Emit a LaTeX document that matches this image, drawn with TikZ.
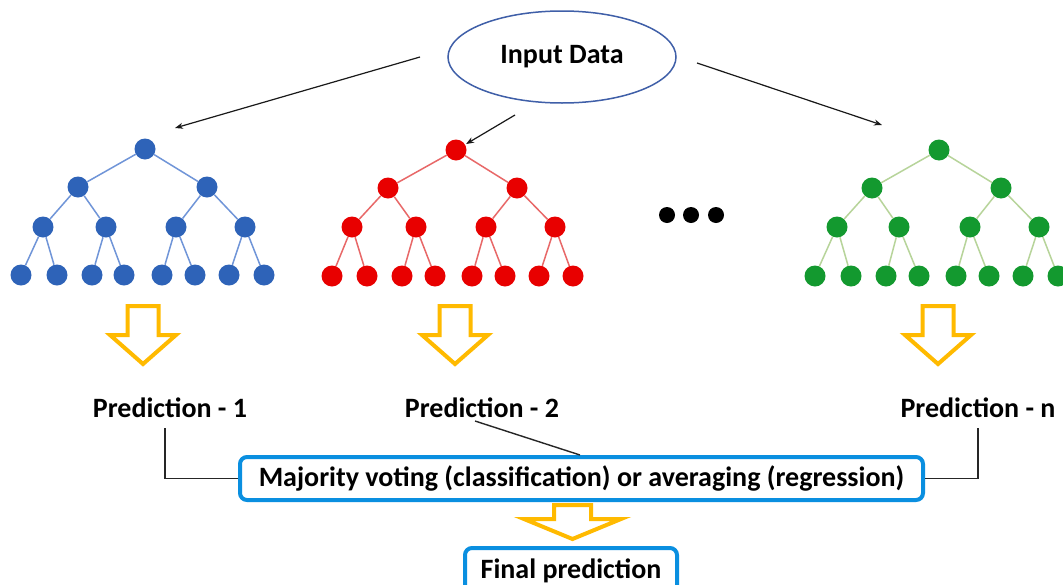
\documentclass[tikz,border=0pt]{standalone}
\usepackage{fontspec}
\setmainfont{Carlito}
\usetikzlibrary{arrows.meta,shapes.geometric}
\definecolor{tblue}{HTML}{2E63B8}
\definecolor{tbluee}{HTML}{7095D8}
\definecolor{tred}{HTML}{E80000}
\definecolor{trede}{HTML}{E86868}
\definecolor{tgreen}{HTML}{13992F}
\definecolor{tgreene}{HTML}{B7D49A}
\definecolor{gold}{HTML}{FFBA00}
\definecolor{boxblue}{HTML}{0A8FE0}
\definecolor{ellblue}{HTML}{3F5FA8}
\begin{document}
\begin{tikzpicture}[x=1pt,y=-1pt,
  dot/.style={circle,fill=#1,inner sep=0pt,minimum size=21pt},
  tedge/.style={draw=#1,line width=1.5pt},
  yarrow/.style={draw=gold,line width=4pt,line join=miter,fill=white},
  conn/.style={draw=black!85,line width=1.4pt},
  dataarrow/.style={draw=black!90,line width=1.2pt,-{Stealth[length=8pt,width=6pt]}},
  pred/.style={font=\bfseries\fontsize{28}{32}\selectfont},
  bbox/.style={draw=boxblue,line width=4pt,rounded corners=7pt,fill=white,
    font=\bfseries\fontsize{28}{32}\selectfont}]
\useasboundingbox (0,0) rectangle (1063,584);
\fill[white] (0,0) rectangle (1063,584);

% input ellipse
\node[ellipse,draw=ellblue,line width=1.5pt,minimum width=228pt,minimum height=92pt,
  font=\bfseries\fontsize{28}{32}\selectfont] (in) at (562,57) {Input Data};

% trees
\newcommand\mktree[6]{%
  \foreach \n/\x/\y in {#4} \node[dot=#2] (#1\n) at (\x,\y) {};
  \foreach \n/\x/\y in {#5} \node[dot=#2] (#1\n) at (\x,\y) {};
  \foreach \n/\x/\y in {#6} \node[dot=#2] (#1\n) at (\x,\y) {};
  \foreach \p/\c in {r/a,r/b,a/c,a/d,b/e,b/f,c/l1,c/l2,d/l3,d/l4,e/l5,e/l6,f/l7,f/l8}
    \draw[tedge=#3] (#1\p) -- (#1\c);
}
\mktree{B}{tblue}{tbluee}
  {r/145/149,a/78/187,b/207/187}
  {c/43/227,d/106/227,e/176/227,f/245/227}
  {l1/21/275,l2/57/275,l3/92/275,l4/124/275,l5/162/275,l6/195/275,l7/229/275,l8/264/275}
\mktree{R}{tred}{trede}
  {r/456/150,a/388/188,b/517/188}
  {c/352/227,d/416/227,e/486/227,f/555/227}
  {l1/332/276,l2/367/276,l3/402/276,l4/435/276,l5/472/276,l6/505/276,l7/539/276,l8/573/276}
\mktree{G}{tgreen}{tgreene}
  {r/939/150,a/872/188,b/1001/188}
  {c/837/227,d/899/227,e/970/227,f/1039/227}
  {l1/815/276,l2/851/276,l3/886/276,l4/919/276,l5/956/276,l6/989/276,l7/1023/276,l8/1058/276}

% dots
\foreach \i/\x in {1/667,2/691,3/716} \node[circle,fill=black,inner sep=0pt,minimum size=16pt] (dots\i) at (\x,215) {};

% data arrows
\coordinate (a1s) at (420,57);
\coordinate (a1e) at (175,128);
\coordinate (a2s) at (515,115);
\coordinate (a3s) at (697,63);
\coordinate (a3e) at (882,125);
\draw[dataarrow] (a1s) -- (a1e);
\draw[dataarrow,shorten >=1pt] (a2s) -- (Rr);
\draw[dataarrow] (a3s) -- (a3e);

% hollow arrows
\newcommand\hollowarrow[2]{%
  \draw[yarrow] ({#1-15.5},#2) -- ({#1+15.5},#2) -- ({#1+15.5},{#2+29}) -- ({#1+33},{#2+29})
    -- (#1,{#2+58}) -- ({#1-33},{#2+29}) -- ({#1-15.5},{#2+29}) -- cycle;}
\hollowarrow{143}{306}
\hollowarrow{455}{306}
\hollowarrow{938}{306}

% predictions
\node[pred] (p1) at (170,408) {Prediction - 1};
\node[pred] (p2) at (482,408) {Prediction - 2};
\node[pred] (pn) at (978,408) {Prediction - n};

% majority box
\node[bbox,minimum width=683pt,minimum height=43pt,inner sep=0pt] (maj) at (581.5,478.5)
  {Majority voting (classification) or averaging (regression)};

% connectors
\coordinate (c1) at (165,428);
\coordinate (c2) at (475,421);
\coordinate (c3) at (580,455);
\coordinate (cn) at (978,428);
\draw[conn] (c1) -- (c1 |- maj.west) -- (maj.west);
\draw[conn] (c2) -- (c3);
\draw[conn] (cn) -- (cn |- maj.east) -- (maj.east);

% small yellow arrow
\draw[yarrow] (554,505) -- (591,505) -- (591,519) -- (621,519) -- (572.5,539) -- (524,519) -- (554,519) -- cycle;

% final box
\node[bbox,minimum width=212pt,minimum height=46pt,inner sep=0pt,anchor=north] (fin) at (571,546)
  {\raisebox{-2pt}{Final prediction}};
\end{tikzpicture}
\end{document}
